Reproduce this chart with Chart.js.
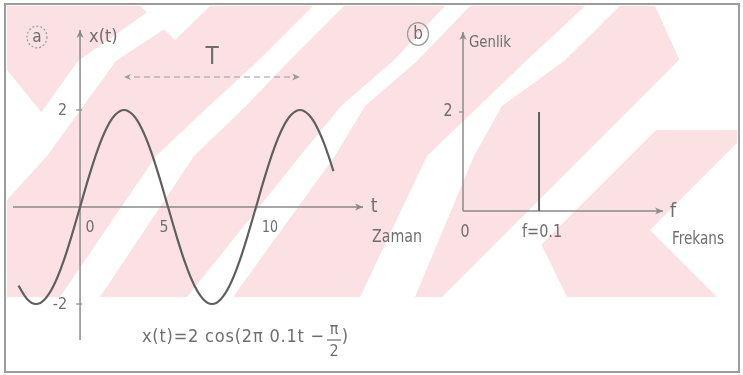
<!DOCTYPE html>
<html>
<head>
<meta charset="utf-8">
<script src="https://cdn.jsdelivr.net/npm/chart.js@4.4.1/dist/chart.umd.min.js"></script>
<style>
  html, body { margin: 0; padding: 0; background: #ffffff; }
  #wrap { position: relative; width: 743px; height: 375px; overflow: hidden; }
  #wrap canvas { position: absolute; left: 0; top: 0; }
</style>
</head>
<body>
<div id="wrap">
  <canvas id="timeChart" width="743" height="375"></canvas>
  <canvas id="freqChart" width="743" height="375"></canvas>
</div>
<script>
// ---- data: x(t) = 2 cos(2π·0.1·t − π/2), sampled every half second ----
const timeSec = [-3.5, -3, -2.5, -2, -1.5, -1, -0.5, 0, 0.5, 1, 1.5, 2, 2.5, 3, 3.5, 4, 4.5, 5,
                 5.5, 6, 6.5, 7, 7.5, 8, 8.5, 9, 9.5, 10, 10.5, 11, 11.5, 12, 12.5, 13, 13.5, 14, 14.4];
const signalX = [-1.62, -1.9, -2, -1.9, -1.62, -1.18, -0.62, 0, 0.62, 1.18, 1.62, 1.9, 2, 1.9, 1.62, 1.18, 0.62, 0,
                 -0.62, -1.18, -1.62, -1.9, -2, -1.9, -1.62, -1.18, -0.62, 0, 0.62, 1.18, 1.62, 1.9, 2, 1.9, 1.62, 1.18, 0.74];
const timeTicks = [0, 5, 10];
const timeTickLabels = ['0', '5', '10'];
const signalTicks = [2, -2];
const signalTickLabels = ['2', '-2'];
const periodSpan = [2.5, 12.5];          // one period T, peak to peak

// ---- data: amplitude spectrum ----
const freqHz = [0.1];
const amplitude = [2];
const freqTicks = [0, 0.1];
const freqTickLabels = ['0', 'f=0.1'];
const ampTicks = [2];
const ampTickLabels = ['2'];

// ---- styling ----
const FONT = '"Liberation Sans Narrow", "DejaVu Sans Condensed", "Liberation Sans", Arial, sans-serif';
const INK = '#5f5f5f';
const AXIS = '#8a8a8a';
const TEXT = '#6e6e6e';
const PINK = '#fbe1e4';

function font(px) { return px + 'px ' + FONT; }

function arrowHead(ctx, x, y, dir, len, half) {
  // dir: angle in radians the head points to
  ctx.save();
  ctx.translate(x, y);
  ctx.rotate(dir);
  ctx.beginPath();
  ctx.moveTo(0, 0);
  ctx.lineTo(-len, -half);
  ctx.lineTo(-len * 0.7, 0);
  ctx.lineTo(-len, half);
  ctx.closePath();
  ctx.fill();
  ctx.restore();
}

function axisArrow(ctx, x0, y0, x1, y1) {
  ctx.save();
  ctx.strokeStyle = AXIS;
  ctx.fillStyle = AXIS;
  ctx.lineWidth = 1.5;
  ctx.beginPath();
  ctx.moveTo(x0, y0);
  ctx.lineTo(x1, y1);
  ctx.stroke();
  arrowHead(ctx, x1, y1, Math.atan2(y1 - y0, x1 - x0), 8, 3.5);
  ctx.restore();
}

function text(ctx, str, x, y, px, align, maxW) {
  ctx.save();
  ctx.font = font(px);
  ctx.fillStyle = TEXT;
  ctx.textAlign = align || 'center';
  ctx.textBaseline = 'middle';
  if (maxW) ctx.fillText(str, x, y, maxW); else ctx.fillText(str, x, y);
  ctx.restore();
}

function circledLetter(ctx, ch, cx, cy, r, dashed) {
  ctx.save();
  ctx.strokeStyle = '#9a9a9a';
  ctx.lineWidth = 1.2;
  if (dashed) ctx.setLineDash([2, 2]);
  ctx.beginPath();
  ctx.ellipse(cx, cy, r, r * 1.08, 0, 0, Math.PI * 2);
  ctx.stroke();
  ctx.restore();
  text(ctx, ch, cx, cy + 1, 17);
}

// Pale striped paper behind both panels, plus the outer frame
const paper = {
  id: 'paper',
  beforeDraw(chart) {
    const ctx = chart.ctx;
    ctx.save();
    ctx.fillStyle = '#ffffff';
    ctx.fillRect(0, 0, chart.width, chart.height);
    ctx.beginPath();
    ctx.rect(7, 6, 730, 291);
    ctx.clip();
    ctx.fillStyle = PINK;
    ctx.fillRect(7, 6, 730, 291);
    const stripes = [
      [[140, 6], [210, 6], [175, 40]],
      [[7, 70], [60, 135], [7, 200]],
      [[156, 6], [78, 61], [10, 156], [7, 159], [7, 200], [47, 156], [116, 61], [199, 6]],
      [[313, 6], [258, 61], [209, 106], [156, 156], [60, 297], [100, 297], [194, 156], [246, 106], [289, 61], [344, 6]],
      [[445, 6], [393, 61], [341, 106], [300, 156], [187, 297], [233, 297], [335, 156], [365, 106], [417, 61], [470, 6]],
      [[585, 6], [526, 61], [479, 106], [427, 156], [360, 297], [415, 297], [474, 156], [502, 106], [564, 61], [620, 6]],
      [[733, 6], [737, 6], [737, 49], [489, 297], [442, 297]],
      [[526, 213], [567, 297], [489, 297]],
      [[655, 6], [737, 6], [737, 130], [656, 130], [680, 61]],
      [[650, 230], [737, 143], [737, 297], [717, 297]]
    ];
    ctx.fillStyle = '#ffffff';
    for (const poly of stripes) {
      ctx.beginPath();
      poly.forEach(([x, y], i) => (i ? ctx.lineTo(x, y) : ctx.moveTo(x, y)));
      ctx.closePath();
      ctx.fill();
    }
    ctx.restore();
    ctx.save();
    ctx.strokeStyle = '#9c9c9c';
    ctx.lineWidth = 2;
    ctx.strokeRect(5, 4, 734, 368);
    ctx.restore();
  }
};

// Axes, ticks and captions of the time-domain panel
const timeDecor = {
  id: 'timeDecor',
  beforeDatasetsDraw(chart) {
    const ctx = chart.ctx;
    const xs = chart.scales.x, ys = chart.scales.y;
    const a = chart.chartArea;
    const x0 = xs.getPixelForValue(0), y0 = ys.getPixelForValue(0);
    axisArrow(ctx, a.left - 6, y0, a.right, y0);
    axisArrow(ctx, x0, a.bottom, x0, a.top);
    ctx.save();
    ctx.strokeStyle = AXIS;
    ctx.lineWidth = 1.2;
    signalTicks.forEach((v) => {
      const py = ys.getPixelForValue(v);
      ctx.beginPath();
      ctx.moveTo(x0 - 4, py);
      ctx.lineTo(x0 + 2, py);
      ctx.stroke();
    });
    ctx.restore();
  },
  afterDatasetsDraw(chart) {
    const ctx = chart.ctx;
    const xs = chart.scales.x, ys = chart.scales.y;
    const x0 = xs.getPixelForValue(0), y0 = ys.getPixelForValue(0);
    const nudge = [10, -4, 14];
    timeTicks.forEach((t, i) => text(ctx, timeTickLabels[i], xs.getPixelForValue(t) + nudge[i], y0 + 21, 16, 'center', i === 2 ? 16 : 9));
    signalTicks.forEach((v, i) => text(ctx, signalTickLabels[i], x0 - 13, ys.getPixelForValue(v) + 1, 16, 'right', i ? 17 : 9));
    text(ctx, 't', chart.chartArea.right + 11, y0, 19);
    text(ctx, 'Zaman', chart.chartArea.right + 34, y0 + 31, 17, 'center', 50);
    text(ctx, 'x(t)', x0 + 9, 37, 18, 'left', 33);
    circledLetter(ctx, 'a', 37, 37, 10, true);

    // period marker T
    const pL = xs.getPixelForValue(periodSpan[0]), pR = xs.getPixelForValue(periodSpan[1]);
    const py = 77;
    ctx.save();
    ctx.strokeStyle = '#9a9a9a';
    ctx.fillStyle = '#9a9a9a';
    ctx.lineWidth = 1.2;
    ctx.setLineDash([6, 4]);
    ctx.beginPath();
    ctx.moveTo(pL + 10, py);
    ctx.lineTo(pR - 2, py);
    ctx.stroke();
    ctx.setLineDash([]);
    arrowHead(ctx, pL, py, Math.PI, 7, 3);
    arrowHead(ctx, pR, py, 0, 8, 3.5);
    ctx.restore();
    text(ctx, 'T', (pL + pR) / 2, 58, 24);

    // formula
    ctx.save();
    ctx.font = font(18);
    ctx.fillStyle = TEXT;
    ctx.textBaseline = 'middle';
    ctx.textAlign = 'left';
    const main = 'x(t)=2 cos(2π 0.1t −';
    const targetW = 183;
    const w = ctx.measureText(main).width;
    if (w < targetW) ctx.letterSpacing = ((targetW - w) / main.length).toFixed(2) + 'px';
    ctx.fillText(main, 142, 337, targetW);
    ctx.letterSpacing = '0px';
    ctx.textAlign = 'center';
    ctx.font = font(16);
    ctx.fillText('π', 334, 330);
    ctx.fillText('2', 334, 352);
    ctx.font = font(18);
    ctx.fillText(')', 345, 337);
    ctx.strokeStyle = TEXT;
    ctx.lineWidth = 1.2;
    ctx.beginPath();
    ctx.moveTo(327, 340);
    ctx.lineTo(341, 340);
    ctx.stroke();
    ctx.restore();
  }
};

// Axes, ticks and captions of the spectrum panel
const freqDecor = {
  id: 'freqDecor',
  beforeDatasetsDraw(chart) {
    const ctx = chart.ctx;
    const xs = chart.scales.x, ys = chart.scales.y;
    const a = chart.chartArea;
    const x0 = xs.getPixelForValue(0), y0 = ys.getPixelForValue(0);
    axisArrow(ctx, x0, y0, a.right, y0);
    axisArrow(ctx, x0, y0, x0, a.top - 1);
    ctx.save();
    ctx.strokeStyle = AXIS;
    ctx.lineWidth = 1.2;
    ampTicks.forEach((v) => {
      const py = ys.getPixelForValue(v);
      ctx.beginPath();
      ctx.moveTo(x0 - 4, py);
      ctx.lineTo(x0, py);
      ctx.stroke();
    });
    ctx.restore();
  },
  afterDatasetsDraw(chart) {
    const ctx = chart.ctx;
    const xs = chart.scales.x, ys = chart.scales.y;
    const x0 = xs.getPixelForValue(0), y0 = ys.getPixelForValue(0);
    freqTicks.forEach((f, i) => text(ctx, freqTickLabels[i], xs.getPixelForValue(f) + (i ? 3 : 2), y0 + 21, 18, 'center', i ? 40 : 9));
    ampTicks.forEach((v, i) => text(ctx, ampTickLabels[i], x0 - 15, ys.getPixelForValue(v), 17, 'center', 9));
    text(ctx, 'f', chart.chartArea.right + 10, y0 + 1, 20);
    text(ctx, 'Frekans', chart.chartArea.right + 35, y0 + 29, 17, 'center', 52);
    text(ctx, 'Genlik', x0 + 6, 43, 16, 'left', 42);
    circledLetter(ctx, 'b', 418, 34, 10.5, false);
  }
};

const common = {
  responsive: false,
  animation: false,
  devicePixelRatio: 1,
  events: [],
  plugins: { legend: { display: false }, tooltip: { enabled: false } }
};

new Chart(document.getElementById('timeChart'), {
  type: 'line',
  data: {
    datasets: [{
      data: timeSec.map((t, i) => ({ x: t, y: signalX[i] })),
      borderColor: INK,
      borderWidth: 2.2,
      pointRadius: 0,
      tension: 0.4,
      fill: false,
      clip: false
    }]
  },
  options: Object.assign({}, common, {
    layout: { padding: { left: 19, right: 380, top: 30, bottom: 35 } },
    scales: {
      x: { type: 'linear', display: false, min: -3.47, max: 16.08 },
      y: { type: 'linear', display: false, min: -2.742, max: 3.649 }
    }
  }),
  plugins: [paper, timeDecor]
});

new Chart(document.getElementById('freqChart'), {
  type: 'line',
  data: {
    datasets: [{
      data: freqHz.flatMap((f, i) => [{ x: f, y: 0 }, { x: f, y: amplitude[i] }, { x: f, y: null }]),
      borderColor: INK,
      borderWidth: 2,
      pointRadius: 0,
      spanGaps: false,
      fill: false,
      clip: false
    }]
  },
  options: Object.assign({}, common, {
    layout: { padding: { left: 463, right: 80, top: 33, bottom: 164 } },
    scales: {
      x: { type: 'linear', display: false, min: 0, max: 0.263 },
      y: { type: 'linear', display: false, min: 0, max: 3.596 }
    }
  }),
  plugins: [freqDecor]
});
</script>
</body>
</html>
